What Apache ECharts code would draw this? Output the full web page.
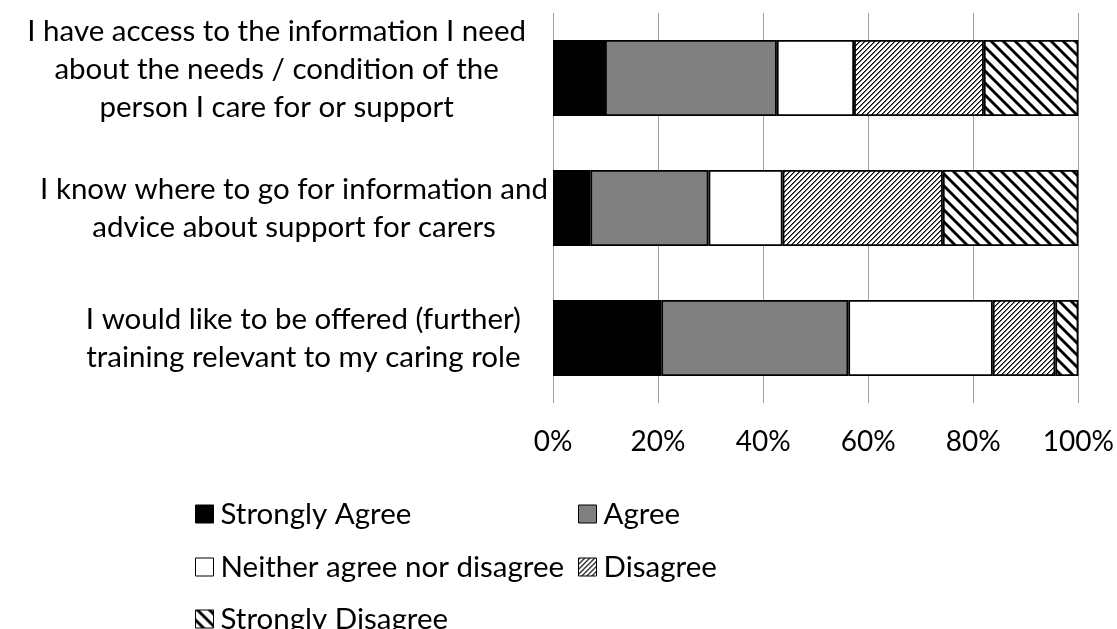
<!DOCTYPE html>
<html>
<head>
<meta charset="utf-8">
<script src="https://cdn.jsdelivr.net/npm/echarts@6/dist/echarts.min.js"></script>
<style>
  html, body { margin: 0; padding: 0; background: #fff; }
  #chart { width: 1117px; height: 629px; }
</style>
</head>
<body>
<div id="chart"></div>
<script>
// Survey statements (top to bottom)
var categories = [
  'I have access to the information I need\nabout the needs / condition of the\nperson I care for or support',
  'I know where to go for information and\nadvice about support for carers',
  'I would like to be offered (further)\ntraining relevant to my caring role'
];

// Share of responses per statement, in percent
var stronglyAgree    = [9.9, 7.1, 20.6];
var agree            = [32.7, 22.5, 35.6];
var neither          = [14.7, 14.1, 27.5];
var disagree         = [24.7, 30.5, 11.9];
var stronglyDisagree = [18.0, 25.8, 4.4];

var seriesNames = ['Strongly Agree', 'Agree', 'Neither agree nor disagree', 'Disagree', 'Strongly Disagree'];
var tickLabels = ['0%', '20%', '40%', '60%', '80%', '100%'];

var FONT = 'Lato, "Open Sans", sans-serif';
var FS = 29.5;
var TICK_FS = 28;

// Hatch tiles drawn pixel by pixel
function makeTile(size, test) {
  var c = document.createElement('canvas');
  c.width = size; c.height = size;
  var ctx = c.getContext('2d');
  var img = ctx.createImageData(size, size);
  for (var y = 0; y < size; y++) {
    for (var x = 0; x < size; x++) {
      var v = test(x, y);
      var i = (y * size + x) * 4;
      img.data[i] = v; img.data[i + 1] = v; img.data[i + 2] = v; img.data[i + 3] = 255;
    }
  }
  ctx.putImageData(img, 0, 0);
  return c;
}
// fine upward diagonal
var fineUp = makeTile(10, function (x, y) {
  var d = (x + y) % 5;
  return d === 0 ? 0 : (d === 1 ? 110 : 255);
});
// wide downward diagonal
var wideDown = makeTile(12, function (x, y) {
  var d = (((x - y) % 12) + 12) % 12;
  if (d >= 1 && d <= 3) return 0;
  if (d === 0 || d === 4) return 120;
  return 255;
});

var fills = [
  '#000000',
  '#808080',
  '#ffffff',
  { image: fineUp, repeat: 'repeat' },
  { image: wideDown, repeat: 'repeat' }
];
var values = [stronglyAgree, agree, neither, disagree, stronglyDisagree];

var series = seriesNames.map(function (name, i) {
  return {
    name: name,
    type: 'bar',
    stack: 'total',
    barCategoryGap: '41.5%',
    data: values[i],
    itemStyle: { color: fills[i], borderColor: '#000', borderWidth: 1.8 },
    emphasis: { disabled: true }
  };
});

// per-label box tweaks: right edge and vertical placement
var labelPad = [[0, 22, 18, 0], [0, 0, 0, 0], [0, 27, 0, 0]];

// legend slots: [column left, row top]
var legendSlots = [[195, 499], [578, 499], [195, 552], [578, 552], [195, 604]];
var legends = seriesNames.map(function (name, i) {
  return {
    data: [name],
    left: legendSlots[i][0], top: legendSlots[i][1],
    padding: 0,
    icon: 'rect',
    itemWidth: 18, itemHeight: 18,
    selectedMode: false,
    itemStyle: { borderColor: '#000', borderWidth: 1 },
    textStyle: { fontFamily: FONT, fontSize: FS, color: '#000', lineHeight: 26, padding: [0, 0, 0, 2] }
  };
});

var chart = echarts.init(document.getElementById('chart'), null, { renderer: 'canvas' });
chart.setOption({
  animation: false,
  backgroundColor: '#ffffff',
  grid: { left: 553, right: 38, top: 13, bottom: 226, containLabel: false },
  xAxis: {
    type: 'value',
    min: 0, max: 100, interval: 20,
    axisLine: { show: false },
    axisTick: { show: false },
    splitLine: { show: true, lineStyle: { color: '#a0a0a0', width: 1 } },
    axisLabel: {
      margin: 25,
      color: '#000',
      fontFamily: FONT,
      fontSize: TICK_FS,
      formatter: function (v) { return tickLabels[Math.round(v / 20)]; }
    }
  },
  yAxis: {
    type: 'category',
    inverse: true,
    data: categories.map(function (c, i) {
      return { value: c, textStyle: { padding: labelPad[i] } };
    }),
    axisLine: { show: false },
    axisTick: { show: false },
    axisLabel: {
      margin: 5,
      align: 'right',
      color: '#000',
      fontFamily: FONT,
      fontSize: FS,
      lineHeight: 38,
      formatter: function (v) { return '{c|' + v + '}'; },
      rich: { c: { align: 'center', fontFamily: FONT, fontSize: FS, lineHeight: 38, color: '#000' } }
    }
  },
  legend: legends,
  series: series
});
</script>
</body>
</html>
